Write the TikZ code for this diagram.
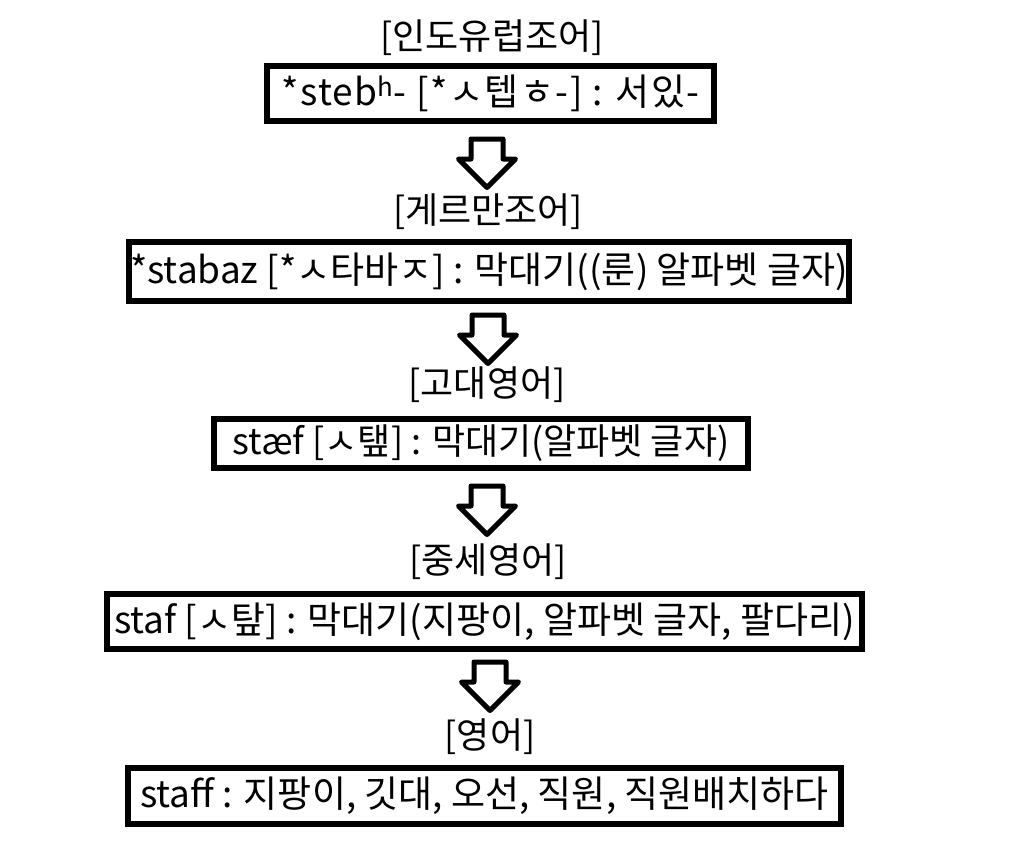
\documentclass[tikz,border=0pt]{standalone}
\usepackage{fontspec}
\setmainfont{Noto Sans CJK KR}
\usetikzlibrary{shapes.arrows}
\begin{document}
\begin{tikzpicture}[x=1pt,y=-1pt,
  stagebox/.style={draw=black,line width=6pt,inner sep=0pt,fill=white,
    font=\fontsize{37}{42}\selectfont,align=center},
  stagelabel/.style={inner sep=0pt,font=\fontsize{36}{40}\selectfont},
  downarrow/.style={draw=black,line width=5pt,line join=round,shape=single arrow,
    rotate=-90,anchor=tail,single arrow head extend=12.5pt,inner xsep=0pt,inner ysep=13.5pt,
    minimum height=48.5pt,fill=white}]
\useasboundingbox[fill=white] (0,0) rectangle (1029,841);
% labels
\node[stagelabel] (l1) at (492,38) {[인도유럽조어]};
\node[stagelabel] (l2) at (488,212) {[게르만조어]};
\node[stagelabel] (l3) at (487,385) {[고대영어]};
\node[stagelabel] (l4) at (488,562) {[중세영어]};
\node[stagelabel] (l5) at (490,737) {[영어]};
% boxes
\node[stagebox,minimum width=447pt,minimum height=55pt] (b1) at (490.5,93.5)
  {\addfontfeature{LetterSpace=4}*steb\textsuperscript{h}- [*ㅅ텝ㅎ-] : 서있-};
\node[stagebox,minimum width=720pt,minimum height=59pt] (b2) at (489,271.5)
  {*stabaz [*ㅅ타바ㅈ] : 막대기((룬) 알파벳 글자)};
\node[stagebox,minimum width=534pt,minimum height=49pt,font=\fontsize{36}{40}\selectfont] (b3) at (481,443.5)
  {stæf [ㅅ탶] : 막대기(알파벳 글자)};
\node[stagebox,minimum width=755pt,minimum height=55pt] (b4) at (484.5,621.5)
  {staf [ㅅ탚] : 막대기(지팡이, 알파벳 글자, 팔다리)};
\node[stagebox,minimum width=713pt,minimum height=56pt] (b5) at (484.5,796)
  {staff : 지팡이, 깃대, 오선, 직원, 직원배치하다};
% arrows
\node[downarrow] (a1) at (487,136.5) {};
\node[downarrow] (a2) at (488,312.5) {};
\node[downarrow] (a3) at (487,483.5) {};
\node[downarrow] (a4) at (490,659.5) {};
\end{tikzpicture}
\end{document}
